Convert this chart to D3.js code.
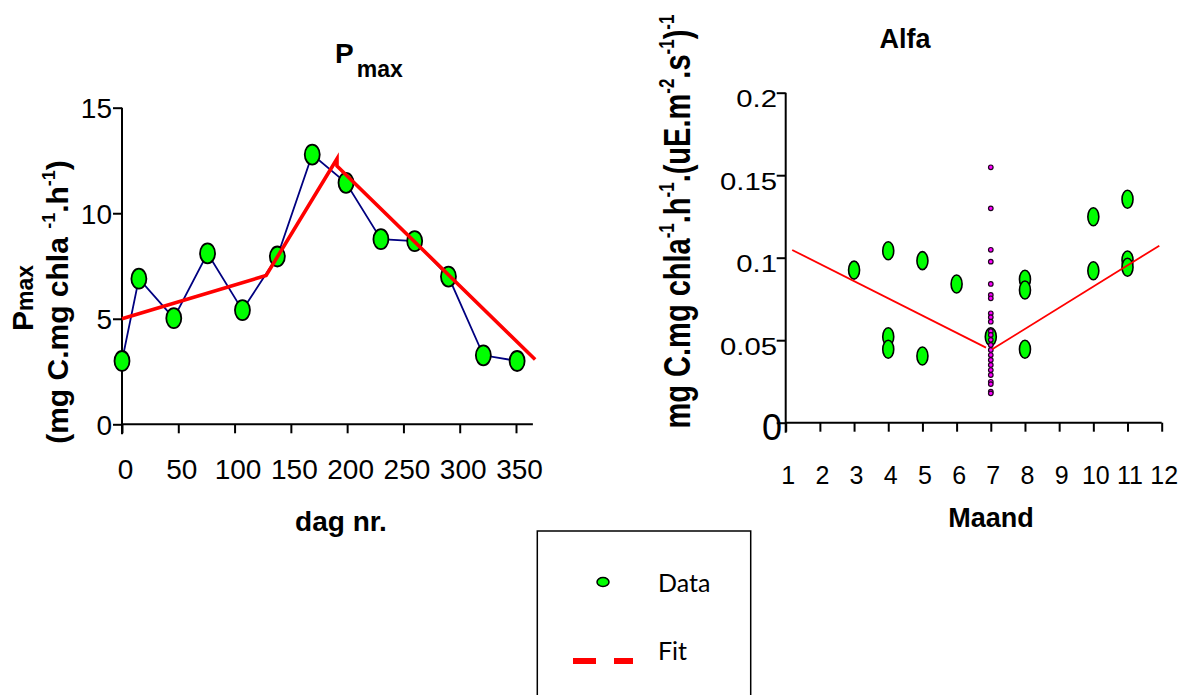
<!DOCTYPE html>
<html><head><meta charset="utf-8">
<script src="https://cdn.jsdelivr.net/npm/d3@7"></script>
<style>body{margin:0;background:#fff;overflow:hidden} svg{display:block}</style>
</head><body>
<svg id="chart" width="1193" height="695"></svg>
<script>
// ---------- Left panel: Pmax ----------
const pmaxDays   = [0, 15, 46, 76, 107, 138, 169, 199, 230, 260, 290, 321, 351];
const pmaxValues = [3.0, 6.9, 5.03, 8.1, 5.41, 7.95, 12.78, 11.44, 8.77, 8.68, 7.0, 3.27, 3.0];
const pmaxFitDays   = [0, 128, 191, 191, 367];
const pmaxFitValues = [5.0, 7.05, 12.58, 12.24, 3.07];
const pmaxXTicks = [0, 50, 100, 150, 200, 250, 300, 350];
const pmaxYTicks = [0, 5, 10, 15];

// ---------- Right panel: Alfa ----------
const alfaMonths = [3, 4, 4, 4, 5, 5, 6, 7, 8, 8, 8, 10, 10, 11, 11, 11];
const alfaValues = [0.0925, 0.1042, 0.0521, 0.0445, 0.0982, 0.0404, 0.0841, 0.0521, 0.0869, 0.0804, 0.0445, 0.1248, 0.0921, 0.1354, 0.0986, 0.0942];
const alfaDetailMonth = 7;
const alfaDetailValues = [0.1548, 0.1299, 0.1048, 0.0976, 0.0841, 0.0774, 0.0754, 0.0663, 0.0639, 0.0612,
  0.0555, 0.0532, 0.0502, 0.0471, 0.0441, 0.041, 0.038, 0.035, 0.0319, 0.0289, 0.0248, 0.0234, 0.0188, 0.0178];
const alfaFitMonths = [1.19, 6.86, 7.04, 11.93];
const alfaFitValues = [0.1047, 0.0455, 0.0445, 0.1073];
const alfaXTicks = [1, 2, 3, 4, 5, 6, 7, 8, 9, 10, 11, 12];
const alfaYTicks = [0, 0.05, 0.1, 0.15, 0.2];
const alfaYLabels = ["0", "0.05", "0.1", "0.15", "0.2"];

const legendLabels = ["Data", "Fit"];

const svg = d3.select("#chart");
const AX = "'Liberation Sans', Arial, sans-serif";
const GREEN = "#00ff00", NAVY = "#000080", RED = "#ff0000";

// ================= LEFT =================
const xL = d3.scaleLinear().domain([0, 350]).range([122, 516]);
const yL = d3.scaleLinear().domain([0, 15]).range([424.3, 107.7]);
const gL = svg.append("g");

const gxL = gL.append("g").attr("transform", `translate(0,${yL(0)})`)
  .call(d3.axisBottom(xL).tickValues(pmaxXTicks).tickSize(9).tickFormat(d3.format("d")));
gxL.select(".domain").remove();
gxL.selectAll(".tick line").attr("stroke", "#000").attr("stroke-width", 2);
gxL.selectAll(".tick text").attr("fill", "#000").attr("font-family", AX).attr("font-size", 28)
  .attr("y", 55).attr("dy", null).attr("dx", 3);

const gyL = gL.append("g").attr("transform", `translate(${xL(0)},0)`)
  .call(d3.axisLeft(yL).tickValues(pmaxYTicks).tickSize(9).tickFormat(d3.format("d")));
gyL.select(".domain").remove();
gyL.selectAll(".tick line").attr("stroke", "#000").attr("stroke-width", 2);
gyL.selectAll(".tick text").attr("fill", "#000").attr("font-family", AX).attr("font-size", 28)
  .attr("x", -10).attr("dy", "0.36em");

gL.append("line").attr("x1", xL(0)).attr("x2", xL(365)).attr("y1", yL(0)).attr("y2", yL(0))
  .attr("stroke", "#000").attr("stroke-width", 2);
gL.append("line").attr("x1", xL(0)).attr("x2", xL(0)).attr("y1", yL(15)).attr("y2", yL(0) + 10)
  .attr("stroke", "#000").attr("stroke-width", 2);

const pmaxData = pmaxDays.map((d, i) => [d, pmaxValues[i]]);
const pmaxFit = pmaxFitDays.map((d, i) => [d, pmaxFitValues[i]]);
const lineL = d3.line().x(d => xL(d[0])).y(d => yL(d[1]));

gL.append("path").attr("d", lineL(pmaxData)).attr("fill", "none").attr("stroke", NAVY).attr("stroke-width", 1.8);
gL.selectAll("ellipse.pt").data(pmaxData).join("ellipse").attr("class", "pt")
  .attr("cx", d => xL(d[0])).attr("cy", d => yL(d[1])).attr("rx", 7.5).attr("ry", 10)
  .attr("fill", GREEN).attr("stroke", "#000").attr("stroke-width", 1.8);
gL.append("path").attr("d", lineL(pmaxFit)).attr("fill", "none").attr("stroke", RED).attr("stroke-width", 3.6);

// title
const tL = gL.append("text").attr("x", 335).attr("y", 63).attr("font-family", AX).attr("font-weight", "bold").attr("fill", "#000");
tL.append("tspan").attr("font-size", 28).text("P");
tL.append("tspan").attr("font-size", 23).attr("dx", 3).attr("dy", 14).text("max");

// x label
gL.append("text").attr("x", 341).attr("y", 531).attr("text-anchor", "middle").attr("font-family", AX)
  .attr("font-weight", "bold").attr("font-size", 28).text("dag nr.");

// y label
const yl1 = gL.append("text").attr("transform", "translate(33,298) rotate(-90)").attr("text-anchor", "middle")
  .attr("font-family", AX).attr("font-weight", "bold");
yl1.append("tspan").attr("font-size", 30).text("P");
yl1.append("tspan").attr("font-size", 23).text("max");
const yl2 = gL.append("text").attr("transform", "translate(68,302) rotate(-90)").attr("text-anchor", "middle")
  .attr("font-family", AX).attr("font-weight", "bold").attr("font-size", 30);
yl2.append("tspan").text("(mg C.mg chla  ");
yl2.append("tspan").attr("font-size", 18).attr("dy", -13).text("-1");
yl2.append("tspan").attr("dy", 13).text(".h");
yl2.append("tspan").attr("font-size", 18).attr("dy", -13).text("-1");
yl2.append("tspan").attr("dy", 13).text(")");

// ================= RIGHT =================
const xR = d3.scaleLinear().domain([1, 12]).range([785.7, 1161.7]);
const yR = d3.scaleLinear().domain([0, 0.2]).range([422.7, 92.7]);
const gR = svg.append("g");

const gxR = gR.append("g").attr("transform", `translate(0,${yR(0)})`)
  .call(d3.axisBottom(xR).tickValues(alfaXTicks).tickSize(9).tickFormat(d3.format("d")));
gxR.select(".domain").remove();
gxR.selectAll(".tick line").attr("stroke", "#000").attr("stroke-width", 2);
gxR.selectAll(".tick text").attr("fill", "#000").attr("font-family", AX).attr("font-size", 25)
  .attr("y", 61).attr("dy", null).attr("dx", 2);

const gyR = gR.append("g").attr("transform", `translate(${xR(1)},0)`)
  .call(d3.axisLeft(yR).tickValues(alfaYTicks).tickSize(9).tickFormat(""));
gyR.select(".domain").remove();
gyR.selectAll(".tick line").attr("stroke", "#000").attr("stroke-width", 2);

gR.selectAll("text.ytl").data(alfaYTicks).join("text").attr("class", "ytl")
  .attr("text-anchor", "end").attr("font-family", AX)
  .attr("font-size", (d, i) => i === 0 ? 36 : 24)
  .attr("transform", (d, i) => i === 0
    ? `translate(782,${yR(d) + 17})`
    : `translate(777,${yR(d) + 14.6}) scale(1.22,1)`)
  .text((d, i) => alfaYLabels[i]);

gR.append("line").attr("x1", xR(1)).attr("x2", xR(12)).attr("y1", yR(0)).attr("y2", yR(0))
  .attr("stroke", "#000").attr("stroke-width", 2);
gR.append("line").attr("x1", xR(1)).attr("x2", xR(1)).attr("y1", yR(0.2)).attr("y2", yR(0) + 10)
  .attr("stroke", "#000").attr("stroke-width", 2);

const alfaData = alfaMonths.map((m, i) => [m, alfaValues[i]]);
const alfaDetail = alfaDetailValues.map(v => [alfaDetailMonth, v]);
const alfaFit = alfaFitMonths.map((m, i) => [m, alfaFitValues[i]]);
const lineR = d3.line().x(d => xR(d[0])).y(d => yR(d[1]));

gR.selectAll("ellipse.pt").data(alfaData).join("ellipse").attr("class", "pt")
  .attr("cx", d => xR(d[0])).attr("cy", d => yR(d[1])).attr("rx", 5.5).attr("ry", 9)
  .attr("fill", GREEN).attr("stroke", "#000").attr("stroke-width", 1.6);
gR.selectAll("circle.dt").data(alfaDetail).join("circle").attr("class", "dt")
  .attr("cx", d => xR(d[0])).attr("cy", d => yR(d[1])).attr("r", 2.3)
  .attr("fill", "#ff00ff").attr("stroke", "#200020").attr("stroke-width", 1.2);
gR.append("path").attr("d", lineR(alfaFit.slice(0, 2))).attr("fill", "none").attr("stroke", RED).attr("stroke-width", 1.8);
gR.append("path").attr("d", lineR(alfaFit.slice(2))).attr("fill", "none").attr("stroke", RED).attr("stroke-width", 1.8);

gR.append("text").attr("x", 905).attr("y", 48).attr("text-anchor", "middle").attr("font-family", AX)
  .attr("font-weight", "bold").attr("font-size", 27).text("Alfa");
gR.append("text").attr("x", 991).attr("y", 527).attr("text-anchor", "middle").attr("font-family", AX)
  .attr("font-weight", "bold").attr("font-size", 27).text("Maand");

const yr = gR.append("text").attr("transform", "translate(690,221.5) scale(1.3,1) rotate(-90)")
  .attr("text-anchor", "middle").attr("font-family", AX).attr("font-weight", "bold").attr("font-size", 29);
[["mg C.mg chla", false], ["-1", true], [".h", false], ["-1", true], [".(uE.m", false], ["-2", true],
 [".s", false], ["-1", true], [")", false], ["-1", true]].forEach(([t, sup], i, arr) => {
  const prevSup = i > 0 && arr[i - 1][1];
  const ts = yr.append("tspan").text(t);
  if (sup) ts.attr("font-size", 17).attr("dy", -12);
  else if (prevSup) ts.attr("dy", 12);
});

// ================= LEGEND =================
const gLeg = svg.append("g");
gLeg.append("rect").attr("x", 537.3).attr("y", 531).attr("width", 213.4).attr("height", 200)
  .attr("fill", "#fff").attr("stroke", "#000").attr("stroke-width", 1.5);
gLeg.append("ellipse").attr("cx", 603).attr("cy", 582).attr("rx", 6).attr("ry", 4.5)
  .attr("fill", GREEN).attr("stroke", "#000").attr("stroke-width", 1.5);
gLeg.append("line").attr("x1", 573).attr("x2", 633).attr("y1", 661).attr("y2", 661)
  .attr("stroke", RED).attr("stroke-width", 6).attr("stroke-dasharray", "23,18");
gLeg.selectAll("text.lg").data(legendLabels).join("text").attr("class", "lg")
  .attr("x", 658).attr("y", (d, i) => i === 0 ? 592 : 660)
  .attr("font-family", "Lato, 'Open Sans', sans-serif").attr("font-size", 25).attr("fill", "#000").text(d => d);
</script>
</body></html>
